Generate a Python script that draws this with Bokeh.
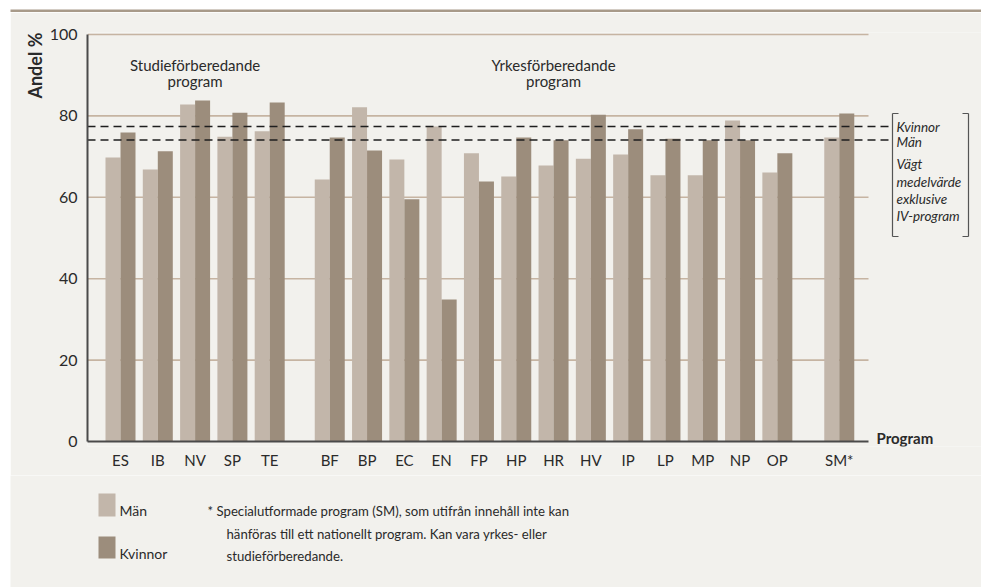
import math
from bokeh.plotting import figure
from bokeh.models import (Range1d, FixedTicker, Label, CustomJSTickFormatter, Title, Spacer)
from bokeh.layouts import row, column
from bokeh.embed import file_html
from bokeh.resources import INLINE

# ---------------- data ----------------
programs = ["ES", "IB", "NV", "SP", "TE", "BF", "BP", "EC", "EN", "FP", "HP",
            "HR", "HV", "IP", "LP", "MP", "NP", "OP", "SM"]
tick_labels = ["ES", "IB", "NV", "SP", "TE", "BF", "BP", "EC", "EN", "FP", "HP",
               "HR", "HV", "IP", "LP", "MP", "NP", "OP", "SM*"]
program_group = ["studie"] * 5 + ["yrkes"] * 13 + ["special"]
man = [69.8, 66.8, 82.8, 74.9, 76.2, 64.4, 82.1, 69.3, 77.4, 70.8, 65.1,
       67.8, 69.5, 70.5, 65.4, 65.4, 78.9, 66.1, 74.7]
kvinnor = [75.9, 71.3, 83.8, 80.8, 83.3, 74.7, 71.5, 59.5, 34.9, 63.9, 74.7,
           74.0, 80.3, 76.7, 74.4, 74.0, 74.0, 70.8, 80.6]
mean_kvinnor = 77.4
mean_man = 74.1
y_ticks = [0, 20, 40, 60, 80, 100]
group_titles = [["Studieförberedande", "program"], ["Yrkesförberedande", "program"]]
bracket_lines = ["Kvinnor", "Män", "Vägt", "medelvärde", "exklusive", "IV-program"]
legend_names = ["Män", "Kvinnor"]
footnote = ["* Specialutformade program (SM), som utifrån innehåll inte kan",
            "hänföras till ett nationellt program. Kan vara yrkes- eller",
            "studieförberedande."]

# ---------------- style / layout ----------------
C_MAN = "#c2b6aa"
C_KV = "#9c8d7c"
BG = "#f2f1ed"
TXT = "#2a2a2a"
FONT = "Lato"

SLOT = 37.3           # px per program slot
YPX = 4.07            # px per percent
AX_X, AX_Y = 87, 441  # page px of the axes
X0 = -(120 - AX_X) / SLOT
gap_offset = {"studie": 0.0, "yrkes": 0.61, "special": 1.27}
pos = [i + gap_offset[g] for i, g in enumerate(program_group)]
bw = 15 / SLOT


def X(ix):
    return X0 + (ix - AX_X) / SLOT


def Y(iy):
    return (AX_Y - iy) / YPX


LEFT = 10
FULL_W = 981 - LEFT
STRIP_H = 12
MAIN_TOP, FRAME_TOP, FRAME_BOT, MAIN_BOT = 12, 32, 446, 475

# ---- top rule ----
strip = figure(width=FULL_W, height=STRIP_H, output_backend="svg", toolbar_location=None,
               x_range=Range1d(0, 1), y_range=Range1d(0, 1),
               x_axis_location=None, y_axis_location=None, frame_align=False,
               min_border_left=0, min_border_right=0, min_border_top=9, min_border_bottom=0)
strip.background_fill_color = "#a89a89"
strip.border_fill_color = "white"
strip.outline_line_color = None
strip.grid.visible = False

# ---- main chart ----
p = figure(width=FULL_W, height=MAIN_BOT - MAIN_TOP, output_backend="svg",
           toolbar_location=None, frame_align=False,
           x_range=Range1d(X(AX_X), X(981)), y_range=Range1d(Y(FRAME_BOT), Y(FRAME_TOP)),
           min_border_left=AX_X - LEFT, min_border_right=0,
           min_border_top=FRAME_TOP - MAIN_TOP, min_border_bottom=MAIN_BOT - FRAME_BOT)
p.background_fill_color = BG
p.border_fill_color = BG
p.outline_line_color = None
p.xgrid.visible = False
p.ygrid.visible = False

gy = [t for t in y_ticks if t > 0]
p.segment(x0=[X(AX_X)] * len(gy), x1=[X(868)] * len(gy), y0=gy, y1=gy,
          line_color="#c6b4a2", line_width=1.6)

p.vbar(x=[v - bw / 2 for v in pos], top=man, width=bw, fill_color=C_MAN, line_color=None)
p.vbar(x=[v + bw / 2 for v in pos], top=kvinnor, width=bw, fill_color=C_KV, line_color=None)

# x axis line (baseline at 0)
p.segment(x0=[X(AX_X - 1)], x1=[X(868)], y0=[0], y1=[0], line_color="#4a4a4a", line_width=2)

# weighted means
p.segment(x0=[X(AX_X)] * 2, x1=[X(891)] * 2, y0=[mean_kvinnor, mean_man],
          y1=[mean_kvinnor, mean_man], line_color="#1e1e1e", line_width=1.5,
          line_dash="8 5")

# bracket
bx0, bx1 = X(892), X(968)
bt, bb = Y(113), Y(236)
tk = 6 / SLOT
p.segment(x0=[bx0, bx0, bx0, bx1, bx1 - tk, bx1 - tk],
          x1=[bx0, bx0 + tk, bx0 + tk, bx1, bx1, bx1],
          y0=[bt, bt, bb, bt, bt, bb], y1=[bb, bt, bb, bb, bt, bb],
          line_color="#555555", line_width=1.2)
for txt, iy in zip(bracket_lines, [126, 141, 163, 181, 198, 215]):
    p.add_layout(Label(x=X(896), y=Y(iy), text=txt, text_font=FONT,
                       text_font_style="italic", text_font_size="13.5px",
                       text_color=TXT, text_baseline="middle", text_align="left"))

# group titles
for lines, first, last in zip(group_titles, [0, 5], [4, 17]):
    cx = (pos[first] + pos[last]) / 2
    for txt, iy in zip(lines, [64, 80]):
        p.add_layout(Label(x=cx, y=Y(iy), text=txt, text_font=FONT, text_font_size="15px",
                           text_color=TXT, text_baseline="middle", text_align="center"))

# axes
p.yaxis.ticker = FixedTicker(ticks=y_ticks)
p.yaxis.bounds = (0, 100)
p.yaxis.axis_line_color = "#4a4a4a"
p.yaxis.axis_line_width = 2
p.yaxis.major_tick_line_color = None
p.yaxis.minor_tick_line_color = None
p.yaxis.major_label_standoff = 4
p.yaxis.major_label_text_font = FONT
p.yaxis.major_label_text_font_size = "16px"
p.yaxis.major_label_text_color = TXT

p.xaxis.ticker = FixedTicker(ticks=pos)
p.xaxis.formatter = CustomJSTickFormatter(args=dict(labels=tick_labels),
                                          code="return labels[index];")
p.xaxis.axis_line_color = None
p.xaxis.major_tick_line_color = None
p.xaxis.minor_tick_line_color = None
p.xaxis.major_label_standoff = -2
p.xaxis.major_label_text_font = FONT
p.xaxis.major_label_text_font_size = "15px"
p.xaxis.major_label_text_color = TXT

p.add_layout(Title(text="Andel %", align="right", text_font=FONT, text_font_style="bold",
                   text_font_size="18px", text_color=TXT, standoff=2), "left")

p.add_layout(Label(x=X(876), y=Y(437), text="Program", text_font=FONT,
                   text_font_style="bold", text_font_size="15px", text_color=TXT,
                   text_align="left", text_baseline="middle"))

# ---- legend and footnote (page coordinates) ----
bot = figure(width=FULL_W, height=587 - MAIN_BOT, output_backend="svg", toolbar_location=None,
             x_range=Range1d(LEFT, 981), y_range=Range1d(587, MAIN_BOT), frame_align=False,
             x_axis_location=None, y_axis_location=None,
             min_border_left=0, min_border_right=0, min_border_top=0, min_border_bottom=0)
bot.background_fill_color = BG
bot.border_fill_color = BG
bot.outline_line_color = None
bot.grid.visible = False
bot.quad(left=[98, 98], right=[115, 115], top=[493, 536], bottom=[516, 558],
         fill_color=[C_MAN, C_KV], line_color=None)
for name, iy in zip(legend_names, [510, 553]):
    bot.add_layout(Label(x=119, y=iy, text=name, text_font=FONT, text_font_size="14px",
                         text_color=TXT, text_align="left", text_baseline="middle"))
for txt, ix, iy in zip(footnote, [207, 226, 226], [510, 533, 555]):
    bot.add_layout(Label(x=ix, y=iy, text=txt, text_font=FONT, text_font_size="13.2px",
                         text_color=TXT, text_align="left", text_baseline="middle"))

layout = row(Spacer(width=LEFT, height=587), column(strip, p, bot))
open("out.html", "w").write(file_html(layout, INLINE))
